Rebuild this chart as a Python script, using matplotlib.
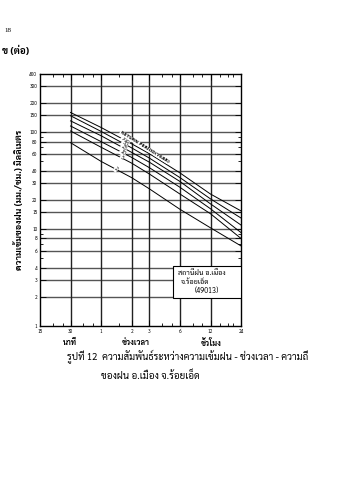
import numpy as np
import matplotlib
matplotlib.use("Agg")
import matplotlib.pyplot as plt
from matplotlib.patches import Rectangle
from matplotlib.ticker import FixedLocator, NullFormatter

TH = ['Sarabun', 'Noto Sans Thai', 'Noto Sans Thai Looped', 'Bai Jamjuree', 'DejaVu Sans']
plt.rcParams['font.family'] = TH

# duration in minutes
durations = [30, 60, 120, 180, 360, 720, 1440]
return_periods = ['100', '50', '25', '10', '5', '2']
intensity = {
    '100': [160, 112, 76, 60, 38, 23, 15.4],
    '50': [148, 102, 69, 54, 34, 20.5, 13],
    '25': [131, 92, 62, 49, 31, 18.2, 11],
    '10': [116, 80, 55, 43, 27, 16.2, 9.2],
    '5': [103, 70, 48, 37, 23, 14.4, 8],
    '2': [78, 50, 34, 26, 16, 10.3, 6.7],
}

x_ticks = [15, 30, 60, 120, 180, 360, 720, 1440]
x_labels = ['15', '30', '1', '2', '3', '6', '12', '24']
x_grid = [30, 60, 120, 180, 360, 720]
y_ticks = [1, 2, 3, 4, 6, 8, 10, 15, 20, 30, 40, 60, 80, 100, 150, 200, 300, 400]
y_grid = [2, 3, 4, 6, 8, 10, 15, 20, 30, 40, 60, 80, 100, 150, 200, 300]

fig = plt.figure(figsize=(3.39, 4.80), dpi=100)
ax = fig.add_axes([0.118, 0.321, 0.593, 0.525])
ax.set_xscale('log')
ax.set_yscale('log')
ax.set_xlim(15, 1440)
ax.set_ylim(1, 400)

for g in y_grid:
    ax.axhline(g, color='#555555', lw=1.0, zorder=1)
for g in x_grid:
    ax.axvline(g, color='#222222', lw=1.0, zorder=1)

for rp in return_periods:
    ax.plot(durations, intensity[rp], color='black', lw=0.7, zorder=3)

# return period labels sitting in a gap of the curves
lab_x = [104, 102, 100, 98, 96, 84]
for rp, lx in zip(return_periods, lab_x):
    yv = np.interp(np.log(lx), np.log(durations), np.log(intensity[rp]))
    ax.text(lx, np.exp(yv), rp, fontsize=3.4, rotation=-40, ha='center', va='center',
            family=['DejaVu Sans'], zorder=4,
            bbox=dict(boxstyle='square,pad=0.1', fc='white', ec='none'))
ax.text(160, 70, 'RETURN PERIOD(YEAR)', fontsize=3.2, rotation=-32, ha='center', va='center',
        family=['DejaVu Sans'], weight='bold', zorder=4,
        bbox=dict(boxstyle='square,pad=0.05', fc='white', ec='none'))

# station box
ax.add_patch(Rectangle((0.662, 0.111), 0.338, 0.127, transform=ax.transAxes,
                       fc='white', ec='black', lw=0.8, zorder=5))
ax.text(0.687, 0.21, 'สถานีฝน อ.เมือง', transform=ax.transAxes, fontsize=5.2,
        ha='left', va='center', zorder=6)
ax.text(0.70, 0.175, 'จ.ร้อยเอ็ด', transform=ax.transAxes, fontsize=5.2,
        ha='left', va='center', zorder=6)
ax.text(0.77, 0.139, '(49013)', transform=ax.transAxes, fontsize=5.2,
        ha='left', va='center', zorder=6)

ax.xaxis.set_major_locator(FixedLocator(x_ticks))
ax.set_xticklabels(x_labels)
ax.xaxis.set_minor_locator(FixedLocator([20, 25, 40, 50, 90, 240, 300, 480, 600, 900, 1080, 1200]))
ax.xaxis.set_minor_formatter(NullFormatter())
ax.yaxis.set_major_locator(FixedLocator(y_ticks))
ax.set_yticklabels([str(v) for v in y_ticks])
ax.yaxis.set_minor_formatter(NullFormatter())
ax.tick_params(which='both', direction='in', top=True, right=True, labelsize=3.5,
               width=0.6, pad=2)
ax.tick_params(which='major', length=4)
ax.tick_params(which='minor', length=2.5)
for s in ax.spines.values():
    s.set_linewidth(1.0)

ax.set_ylabel('ความเข้มของฝน (มม./ชม.) มิลลิเมตร', fontsize=6.5, weight='bold', labelpad=4)

fig.text(70 / 339, 1 - 343 / 480, 'นาที', fontsize=5.5, weight='bold', ha='center', va='center')
fig.text(136 / 339, 1 - 343 / 480, 'ช่วงเวลา', fontsize=5.5, weight='bold', ha='center', va='center')
fig.text(211 / 339, 1 - 343 / 480, 'ชั่วโมง', fontsize=5.5, weight='bold', ha='center', va='center')

fig.text(4 / 339, 1 - 31 / 480, '18', fontsize=5, ha='left', va='center', family=['Liberation Serif'])
fig.text(2 / 339, 1 - 51 / 480, 'ข (ต่อ)', fontsize=7, weight='bold', ha='left', va='center')

fig.text(67 / 339, 1 - 356 / 480, 'รูปที่ 12  ความสัมพันธ์ระหว่างความเข้มฝน - ช่วงเวลา - ความถี่',
         fontsize=7, ha='left', va='center')
fig.text(101 / 339, 1 - 376 / 480, 'ของฝน อ.เมือง จ.ร้อยเอ็ด', fontsize=7, ha='left', va='center')

fig.savefig('out.png', dpi=100, facecolor='white')
